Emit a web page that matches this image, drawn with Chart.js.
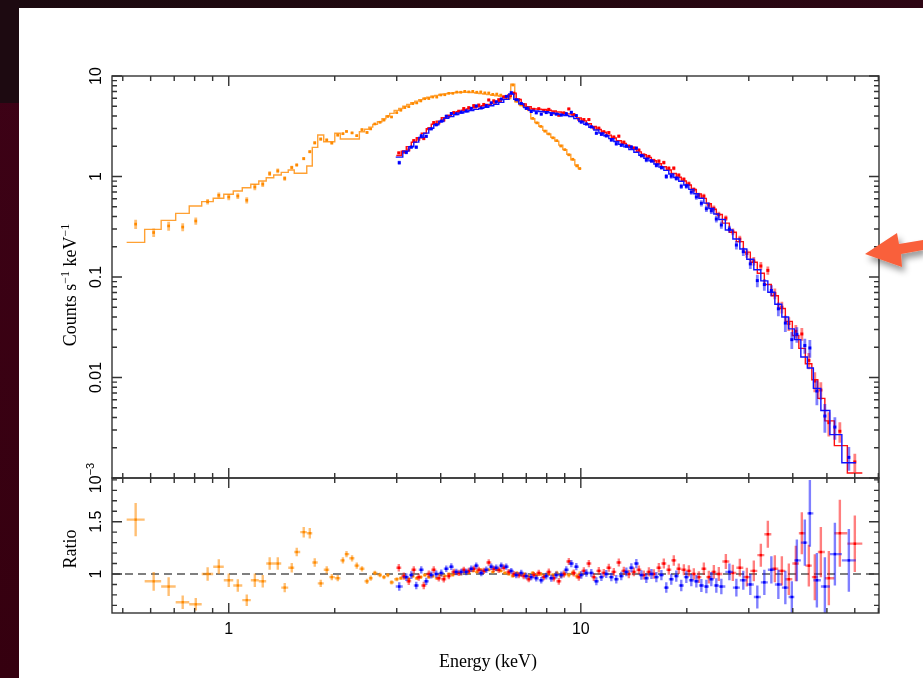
<!DOCTYPE html>
<html>
<head>
<meta charset="utf-8">
<script src="https://cdn.jsdelivr.net/npm/chart.js@4.4.1/dist/chart.umd.min.js"></script>
<style>
  html, body { margin: 0; padding: 0; }
  body { width: 923px; height: 678px; position: relative; overflow: hidden;
         background: linear-gradient(180deg, #3e0217 0%, #35000f 100%); }
  #topband { position: absolute; left: 0; top: 0; width: 923px; height: 8px;
             background: linear-gradient(90deg, #1b0a10 0%, #22080f 55%, #2e0614 100%); }
  #leftband { position: absolute; left: 0; top: 0; width: 19px; height: 103px; background: #1d0a11; }
  #sheet { position: absolute; left: 19px; top: 8px; width: 904px; height: 670px; background: #fff; }
  canvas { position: absolute; left: 0; top: 0; }
  #pointer { position: absolute; left: 0; top: 0; }
</style>
</head>
<body>
<div id="topband"></div>
<div id="leftband"></div>
<div id="sheet"></div>
<canvas id="specChart" width="923" height="678"></canvas>
<canvas id="ratioChart" width="923" height="678"></canvas>
<svg id="pointer" width="923" height="678">
  <defs>
    <filter id="shadow" x="-50%" y="-50%" width="200%" height="200%">
      <feDropShadow dx="3" dy="5" stdDeviation="3" flood-color="#000" flood-opacity="0.4"/>
    </filter>
  </defs>
  <polygon points="865,254 897,233 899,244 923,240 923,250 901,254 902,267" fill="#f9603a" filter="url(#shadow)"/>
</svg>
<script>
// ---- axis ticks ----
const xMajorTicks = [1, 10];
const xMinorTicks = [0.5, 0.6, 0.7, 0.8, 0.9, 2, 3, 4, 5, 6, 7, 8, 9, 20, 30, 40, 50, 60, 70];
const xTickLabels = ['1', '10'];
const countDecades = [0.001, 0.01, 0.1, 1, 10];
const countTickLabels = [['10', '−3'], ['0.01'], ['0.1'], ['1'], ['10']];
const ratioMajorTicks = [1, 1.5];
const ratioMinorTicks = [0.7, 0.8, 0.9, 1.1, 1.2, 1.3, 1.4, 1.6, 1.7, 1.8, 1.9];
const ratioTickLabels = ['1', '1.5'];

// ---- soft X-ray spectrum (orange) ----
const softEnergy = [0.544, 0.612, 0.675, 0.740, 0.806, 0.871, 0.937, 1.000, 1.061, 1.125,
  1.186, 1.249, 1.307, 1.378, 1.442, 1.510, 1.560, 1.633, 1.699, 1.755,
  1.825, 1.898, 1.962, 2.040, 2.110, 2.160, 2.240, 2.310, 2.390, 2.470,
  2.530, 2.600, 2.690, 2.760, 2.830, 2.900, 3.000,
  3.081, 3.162, 3.246, 3.332, 3.420, 3.511, 3.604, 3.700, 3.797, 3.898,
  4.002, 4.108, 4.217, 4.329, 4.443, 4.561, 4.682, 4.806, 4.933, 5.064,
  5.198, 5.337, 5.477, 5.623, 5.772, 5.925, 6.082, 6.242, 6.407, 6.577,
  6.752, 6.931, 7.114, 7.303, 7.499, 7.697, 7.901, 8.111, 8.326, 8.546,
  8.773, 9.005, 9.246, 9.490, 9.742, 9.930];
const softModel = [0.221, 0.298, 0.366, 0.430, 0.508, 0.562, 0.607, 0.665, 0.718, 0.774,
  0.836, 0.902, 0.973, 1.035, 1.10, 1.16, 1.076, 1.076, 1.27, 1.95,
  2.59, 2.22, 2.22, 2.69, 2.36, 2.36, 2.36, 2.36, 2.79, 2.95,
  3.10, 3.30, 3.50, 3.75, 4.00, 4.25, 4.55,
  4.75, 5.00, 5.22, 5.42, 5.62, 5.82, 6.00, 6.15, 6.30, 6.42,
  6.54, 6.64, 6.72, 6.79, 6.85, 6.89, 6.90, 6.88, 6.83, 6.76,
  6.68, 6.60, 6.52, 6.44, 6.36, 6.27, 6.12, 5.95, 8.30, 5.55,
  5.20, 4.95, 4.70, 3.75, 3.45, 3.15, 2.88, 2.65, 2.45, 2.25,
  2.05, 1.85, 1.66, 1.47, 1.30, 1.20];
const softRatio = [1.52, 0.93, 0.88, 0.73, 0.71, 1.00, 1.07, 0.94, 0.89, 0.75,
  0.94, 0.93, 1.10, 1.10, 0.87, 1.06, 1.21, 1.40, 1.39, 1.11,
  0.91, 1.04, 0.97, 0.96, 1.13, 1.19, 1.15, 1.08, 1.05, 0.93,
  0.96, 1.01, 0.99, 0.97, 0.99, 0.92, 0.95,
  0.96, 0.97, 0.95, 0.98, 0.96, 0.97, 0.99, 0.97, 0.98, 0.96,
  0.99, 0.98, 1.00, 0.99, 1.01, 1.00, 1.02, 1.01, 1.03, 1.02,
  1.04, 1.03, 1.04, 1.02, 1.04, 1.03, 1.01, 1.00, 0.98, 1.01,
  0.99, 1.00, 0.98, 1.01, 0.99, 1.00, 0.98, 1.00, 0.99, 1.01,
  0.98, 1.00, 0.99, 1.01, 0.98, 1.00];
const softErr = [0.16, 0.09, 0.09, 0.065, 0.06, 0.065, 0.07, 0.065, 0.06, 0.055,
  0.065, 0.06, 0.06, 0.06, 0.045, 0.045, 0.04, 0.05, 0.05, 0.04,
  0.035, 0.035, 0.03, 0.03, 0.03, 0.03, 0.03, 0.03, 0.025, 0.025,
  0.025, 0.022, 0.022, 0.02, 0.02, 0.02, 0.02,
  0.018, 0.018, 0.018, 0.017, 0.017, 0.017, 0.016, 0.016, 0.016, 0.016,
  0.015, 0.015, 0.015, 0.015, 0.015, 0.015, 0.015, 0.015, 0.015, 0.015,
  0.015, 0.015, 0.015, 0.015, 0.015, 0.016, 0.016, 0.016, 0.014, 0.016,
  0.016, 0.017, 0.017, 0.018, 0.018, 0.019, 0.019, 0.02, 0.02, 0.021,
  0.021, 0.022, 0.023, 0.024, 0.025, 0.026];

// ---- hard X-ray module A (red) ----
const modAEnergy = [3.041, 3.142, 3.246, 3.354, 3.465, 3.580, 3.700, 3.822, 3.950, 4.081,
  4.217, 4.357, 4.501, 4.651, 4.806, 4.965, 5.130, 5.301, 5.477, 5.659,
  5.847, 6.041, 6.242, 6.449, 6.664, 6.885, 7.114, 7.351, 7.595, 7.847,
  8.111, 8.380, 8.660, 8.946, 9.246, 9.552, 9.870, 10.20, 10.54, 10.89,
  11.25, 11.62, 12.01, 12.41, 12.82, 13.25, 13.69, 14.15, 14.62, 15.10,
  15.61, 16.12, 16.66, 17.21, 17.78, 18.37, 18.98, 19.62, 20.27, 20.94,
  21.64, 22.36, 23.10, 23.87, 24.66, 25.82, 27.03, 28.29, 29.62, 31.00,
  32.46, 33.98, 35.57, 37.24, 38.98, 40.81, 42.44, 44.43, 46.20, 48.06,
  50.64, 54.42, 60.02];
const modAModel = [1.62, 1.79, 1.98, 2.19, 2.43, 2.69, 2.99, 3.31, 3.56, 3.84,
  4.06, 4.24, 4.42, 4.56, 4.70, 4.83, 4.94, 5.06, 5.20, 5.39,
  5.58, 5.85, 6.25, 6.75, 5.85, 5.28, 4.95, 4.71, 4.68, 4.64,
  4.57, 4.48, 4.38, 4.29, 4.20, 4.09, 3.83, 3.58, 3.35, 3.14,
  2.94, 2.76, 2.58, 2.42, 2.27, 2.13, 2.00, 1.88, 1.76, 1.65,
  1.55, 1.44, 1.34, 1.25, 1.16, 1.07, 0.982, 0.902, 0.822, 0.743,
  0.671, 0.606, 0.536, 0.473, 0.418, 0.344, 0.279, 0.225, 0.177, 0.140,
  0.109, 0.0843, 0.0651, 0.0486, 0.0362, 0.0262, 0.0195, 0.0137, 0.0095, 0.0062,
  0.0037, 0.0021, 0.00112];
const modARatio = [1.06, 0.98, 0.93, 1.04, 0.97, 0.89, 1.00, 1.04, 0.96, 0.95,
  0.98, 1.02, 1.01, 1.04, 1.03, 1.05, 1.04, 1.03, 1.11, 1.05,
  1.04, 1.06, 1.02, 1.00, 0.99, 0.98, 0.95, 0.99, 1.01, 0.97,
  1.02, 0.96, 0.93, 1.00, 1.12, 1.01, 0.97, 1.03, 1.10, 0.97,
  1.03, 1.01, 1.06, 1.02, 1.11, 1.03, 1.00, 1.02, 1.04, 0.99,
  1.02, 1.00, 1.06, 1.10, 1.04, 1.13, 1.05, 1.04, 1.03, 1.00,
  0.97, 1.05, 0.97, 1.02, 1.00, 1.12, 1.01, 1.06, 0.97, 1.03,
  1.18, 1.38, 1.05, 1.03, 0.95, 1.10, 1.39, 1.08, 0.97, 1.21,
  0.96, 1.39, 1.29];
const modAErr = [0.035, 0.035, 0.035, 0.035, 0.035, 0.035, 0.033, 0.033, 0.032, 0.032,
  0.03, 0.03, 0.03, 0.03, 0.03, 0.03, 0.03, 0.03, 0.03, 0.03,
  0.03, 0.03, 0.028, 0.028, 0.03, 0.03, 0.03, 0.03, 0.03, 0.03,
  0.032, 0.032, 0.032, 0.033, 0.033, 0.034, 0.034, 0.035, 0.035, 0.036,
  0.036, 0.037, 0.038, 0.038, 0.039, 0.04, 0.04, 0.041, 0.042, 0.043,
  0.044, 0.045, 0.046, 0.047, 0.048, 0.05, 0.05, 0.052, 0.054, 0.055,
  0.057, 0.06, 0.062, 0.065, 0.068, 0.072, 0.078, 0.085, 0.09, 0.1,
  0.11, 0.13, 0.13, 0.14, 0.15, 0.17, 0.2, 0.2, 0.22, 0.24,
  0.26, 0.32, 0.27];

// ---- hard X-ray module B (blue) ----
const modBEnergy = [3.050, 3.194, 3.300, 3.409, 3.522, 3.639, 3.761, 3.885, 4.015, 4.148,
  4.287, 4.429, 4.575, 4.728, 4.885, 5.047, 5.215, 5.389, 5.567, 5.752,
  5.944, 6.141, 6.345, 6.555, 6.774, 6.999, 7.231, 7.472, 7.720, 7.976,
  8.245, 8.518, 8.803, 9.094, 9.399, 9.710, 10.03, 10.37, 10.71, 11.07,
  11.44, 11.81, 12.21, 12.61, 13.03, 13.47, 13.92, 14.38, 14.86, 15.35,
  15.87, 16.39, 16.94, 17.49, 18.07, 18.67, 19.29, 19.94, 20.60, 21.29,
  22.00, 22.73, 23.48, 24.26, 25.07, 26.42, 27.66, 28.94, 30.30, 31.72,
  33.21, 34.77, 36.40, 38.10, 39.75, 41.08, 43.28, 44.73, 46.83, 49.34,
  52.68, 57.72];
const modBModel = [1.56, 1.79, 1.98, 2.20, 2.44, 2.70, 3.01, 3.27, 3.52, 3.79,
  3.96, 4.13, 4.29, 4.41, 4.54, 4.66, 4.76, 4.88, 5.05, 5.22,
  5.46, 5.86, 6.62, 5.86, 5.28, 4.86, 4.57, 4.48, 4.44, 4.41,
  4.31, 4.22, 4.13, 4.05, 3.96, 3.77, 3.52, 3.30, 3.09, 2.90,
  2.71, 2.54, 2.38, 2.23, 2.09, 1.97, 1.85, 1.74, 1.63, 1.52,
  1.43, 1.33, 1.24, 1.15, 1.06, 0.976, 0.897, 0.824, 0.745, 0.673,
  0.608, 0.543, 0.480, 0.424, 0.374, 0.294, 0.239, 0.190, 0.150, 0.118,
  0.0914, 0.0706, 0.0536, 0.0400, 0.0305, 0.0238, 0.0160, 0.01245, 0.0078, 0.0047,
  0.0027, 0.00142];
const modBRatio = [0.88, 0.97, 0.99, 0.89, 1.04, 0.93, 0.99, 1.00, 1.01, 1.05,
  1.07, 1.02, 1.02, 1.02, 1.05, 1.08, 1.01, 1.04, 1.07, 1.06,
  1.08, 1.07, 1.03, 0.99, 1.01, 0.98, 0.97, 0.96, 0.94, 0.98,
  0.96, 0.99, 0.99, 1.04, 1.10, 1.07, 0.99, 1.01, 1.01, 0.93,
  0.97, 1.00, 0.97, 0.95, 0.98, 1.02, 1.06, 1.10, 0.99, 0.96,
  1.00, 0.97, 0.99, 0.87, 0.95, 0.98, 0.89, 0.97, 0.94, 0.93,
  0.89, 0.88, 0.95, 0.89, 0.88, 1.02, 0.87, 0.94, 0.90, 0.78,
  0.92, 1.04, 0.90, 0.87, 0.78, 1.13, 1.30, 1.58, 0.94, 0.88,
  1.19, 1.13];
const modBErr = [0.04, 0.038, 0.037, 0.036, 0.035, 0.035, 0.034, 0.033, 0.033, 0.032,
  0.032, 0.031, 0.031, 0.031, 0.031, 0.031, 0.031, 0.031, 0.031, 0.031,
  0.031, 0.03, 0.028, 0.03, 0.031, 0.031, 0.031, 0.031, 0.031, 0.032,
  0.033, 0.033, 0.034, 0.034, 0.035, 0.035, 0.036, 0.036, 0.037, 0.038,
  0.038, 0.039, 0.04, 0.041, 0.041, 0.042, 0.043, 0.044, 0.045, 0.046,
  0.047, 0.048, 0.049, 0.05, 0.052, 0.053, 0.055, 0.056, 0.058, 0.06,
  0.062, 0.065, 0.068, 0.07, 0.074, 0.08, 0.085, 0.09, 0.1, 0.11,
  0.12, 0.13, 0.14, 0.16, 0.15, 0.2, 0.22, 0.32, 0.26, 0.28,
  0.3, 0.3];

const TICK_FONT = '16px "Liberation Sans", Arial, sans-serif';
const SUP_FONT = '11px "Liberation Sans", Arial, sans-serif';
const TITLE_FONT = '18px "Liberation Serif", "Times New Roman", serif';
const TITLE_SUP_FONT = '12px "Liberation Serif", "Times New Roman", serif';
const AXIS_COLOR = '#333';

// bin edges halfway (in log space) between neighbouring channel energies
function binEdges(e) {
  const lo = [], hi = [];
  for (let i = 0; i < e.length; i++) {
    const prev = i > 0 ? Math.sqrt(e[i - 1] * e[i]) : null;
    const next = i < e.length - 1 ? Math.sqrt(e[i] * e[i + 1]) : null;
    lo.push(prev !== null ? prev : e[i] * e[i] / next);
    hi.push(next !== null ? next : e[i] * e[i] / prev);
  }
  return { lo, hi };
}

function buildSeries(energy, model, ratio, err) {
  const edges = binEdges(energy);
  const hist = [];
  energy.forEach((e, i) => {
    hist.push({ x: edges.lo[i], y: model[i] }, { x: edges.hi[i], y: model[i] });
  });
  return {
    edges,
    hist,
    counts: energy.map((e, i) => ({ x: e, y: model[i] * ratio[i] })),
    countErr: energy.map((e, i) => model[i] * err[i]),
    ratios: energy.map((e, i) => ({ x: e, y: ratio[i] })),
    ratioErr: err
  };
}

const soft = buildSeries(softEnergy, softModel, softRatio, softErr);
const modA = buildSeries(modAEnergy, modAModel, modARatio, modAErr);
const modB = buildSeries(modBEnergy, modBModel, modBRatio, modBErr);

const colors = {
  soft: { point: '#ff8a00', line: 'rgba(255,138,0,0.8)', bar: 'rgba(255,138,0,0.55)' },
  modA: { point: '#ff0000', line: '#ff1010', bar: 'rgba(255,0,0,0.5)' },
  modB: { point: '#0000ff', line: '#1010ff', bar: 'rgba(0,0,255,0.5)' }
};

// error bars are drawn just before the markers of their own dataset
const errorBars = {
  id: 'errorBars',
  beforeDatasetDraw(chart, args) {
    const ds = chart.data.datasets[args.index];
    if (!ds.err) return;
    const { ctx, chartArea: a, scales: { x, y } } = chart;
    ctx.save();
    ctx.beginPath();
    ctx.rect(a.left, a.top, a.right - a.left, a.bottom - a.top);
    ctx.clip();
    ctx.strokeStyle = ds.barColor;
    ctx.lineWidth = ds.barWidth;
    ctx.beginPath();
    ds.data.forEach((p, i) => {
      const px = x.getPixelForValue(p.x);
      const py = y.getPixelForValue(p.y);
      const low = p.y - ds.err[i];
      const y0 = low > 0 ? y.getPixelForValue(low) : a.bottom + 20;
      const y1 = y.getPixelForValue(p.y + ds.err[i]);
      ctx.moveTo(px, y0);
      ctx.lineTo(px, y1);
      if (ds.xlo) {
        ctx.moveTo(x.getPixelForValue(ds.xlo[i]), py);
        ctx.lineTo(x.getPixelForValue(ds.xhi[i]), py);
      }
    });
    ctx.stroke();
    ctx.restore();
  }
};

// text made of normal and superscript pieces, optionally turned to read upwards
function richText(ctx, parts, cx, cy, font, supFont, rotated) {
  ctx.save();
  ctx.translate(cx, cy);
  if (rotated) ctx.rotate(-Math.PI / 2);
  let total = 0;
  parts.forEach(p => { ctx.font = p.sup ? supFont : font; total += ctx.measureText(p.t).width; });
  let x = -total / 2;
  ctx.fillStyle = '#000';
  ctx.textBaseline = 'alphabetic';
  ctx.textAlign = 'left';
  parts.forEach(p => {
    ctx.font = p.sup ? supFont : font;
    ctx.fillText(p.t, x, p.sup ? -7 : 0);
    x += ctx.measureText(p.t).width;
  });
  ctx.restore();
}

function xTicks(ctx, x, a) {
  const put = (v, len) => {
    const px = x.getPixelForValue(v);
    ctx.moveTo(px, a.top); ctx.lineTo(px, a.top + len);
    ctx.moveTo(px, a.bottom); ctx.lineTo(px, a.bottom - len);
  };
  xMajorTicks.forEach(v => put(v, 10));
  xMinorTicks.forEach(v => put(v, 5));
}

function yTicks(ctx, y, a, values, len) {
  values.forEach(v => {
    const py = y.getPixelForValue(v);
    ctx.moveTo(a.left, py); ctx.lineTo(a.left + len, py);
    ctx.moveTo(a.right, py); ctx.lineTo(a.right - len, py);
  });
}

const spectrumFrame = {
  id: 'spectrumFrame',
  afterDraw(chart) {
    const { ctx, chartArea: a, scales: { x, y } } = chart;
    ctx.save();
    ctx.strokeStyle = AXIS_COLOR;
    ctx.lineWidth = 1.4;
    ctx.strokeRect(a.left, a.top, a.right - a.left, a.bottom - a.top);
    ctx.beginPath();
    xTicks(ctx, x, a);
    yTicks(ctx, y, a, countDecades, 10);
    const minor = [];
    countDecades.slice(0, -1).forEach(d => { for (let m = 2; m <= 9; m++) minor.push(d * m); });
    yTicks(ctx, y, a, minor, 5);
    ctx.stroke();
    countDecades.forEach((v, i) => {
      const parts = countTickLabels[i].map((t, k) => ({ t, sup: k > 0 }));
      richText(ctx, parts, 101, y.getPixelForValue(v), TICK_FONT, SUP_FONT, true);
    });
    richText(ctx, [{ t: 'Counts s' }, { t: '−1', sup: true }, { t: ' keV' }, { t: '−1', sup: true }],
      76, 285, TITLE_FONT, TITLE_SUP_FONT, true);
    ctx.restore();
  }
};

const ratioFrame = {
  id: 'ratioFrame',
  beforeDatasetsDraw(chart) {
    const { ctx, chartArea: a, scales: { y } } = chart;
    const py = y.getPixelForValue(1);
    ctx.save();
    ctx.strokeStyle = '#555';
    ctx.lineWidth = 1.3;
    ctx.setLineDash([8, 5]);
    ctx.beginPath();
    ctx.moveTo(a.left, py);
    ctx.lineTo(a.right, py);
    ctx.stroke();
    ctx.restore();
  },
  afterDraw(chart) {
    const { ctx, chartArea: a, scales: { x, y } } = chart;
    ctx.save();
    ctx.strokeStyle = AXIS_COLOR;
    ctx.lineWidth = 1.4;
    ctx.strokeRect(a.left, a.top, a.right - a.left, a.bottom - a.top);
    ctx.beginPath();
    xTicks(ctx, x, a);
    yTicks(ctx, y, a, ratioMajorTicks, 10);
    yTicks(ctx, y, a, ratioMinorTicks, 5);
    ctx.stroke();
    ratioMajorTicks.forEach((v, i) => {
      richText(ctx, [{ t: ratioTickLabels[i] }], 101, y.getPixelForValue(v), TICK_FONT, SUP_FONT, true);
    });
    xMajorTicks.forEach((v, i) => {
      richText(ctx, [{ t: xTickLabels[i] }], x.getPixelForValue(v), 634, TICK_FONT, SUP_FONT, false);
    });
    richText(ctx, [{ t: 'Energy (keV)' }], 488, 667, TITLE_FONT, TITLE_SUP_FONT, false);
    richText(ctx, [{ t: 'Ratio' }], 76, 549, TITLE_FONT, TITLE_SUP_FONT, true);
    ctx.restore();
  }
};

function modelDataset(s, c, order) {
  return { data: s.hist, showLine: true, borderColor: c.line, borderWidth: 1.4,
           pointRadius: 0, order };
}

function pointDataset(data, err, c, order, edges, size) {
  return { data, showLine: false, pointStyle: 'rect', pointRadius: size, borderWidth: 0,
           backgroundColor: c.point, borderColor: c.point, err, barColor: c.bar,
           barWidth: edges ? 2.4 : 2.8,
           xlo: edges ? edges.lo : null, xhi: edges ? edges.hi : null, order };
}

const baseOptions = (padding, yScale) => ({
  responsive: false,
  animation: false,
  events: [],
  layout: { padding },
  plugins: { legend: { display: false }, tooltip: { enabled: false } },
  scales: {
    x: { type: 'logarithmic', min: 0.466, max: 70.3, display: false },
    y: yScale
  }
});

new Chart(document.getElementById('specChart'), {
  type: 'scatter',
  data: {
    datasets: [
      pointDataset(modB.counts, modB.countErr, colors.modB, 0, null, 2.1),
      modelDataset(modB, colors.modB, 1),
      pointDataset(modA.counts, modA.countErr, colors.modA, 2, null, 2.1),
      modelDataset(modA, colors.modA, 3),
      pointDataset(soft.counts, soft.countErr, colors.soft, 4, null, 1.9),
      modelDataset(soft, colors.soft, 5)
    ]
  },
  options: baseOptions({ left: 112, right: 44, top: 76, bottom: 200 },
    { type: 'logarithmic', min: 0.001, max: 10, display: false }),
  plugins: [errorBars, spectrumFrame]
});

new Chart(document.getElementById('ratioChart'), {
  type: 'scatter',
  data: {
    datasets: [
      pointDataset(modB.ratios, modB.ratioErr, colors.modB, 0, modB.edges, 1.8),
      pointDataset(modA.ratios, modA.ratioErr, colors.modA, 1, modA.edges, 1.8),
      pointDataset(soft.ratios, soft.ratioErr, colors.soft, 2, soft.edges, 1.7)
    ]
  },
  options: baseOptions({ left: 112, right: 44, top: 478, bottom: 65 },
    { type: 'linear', min: 0.627, max: 1.918, display: false }),
  plugins: [errorBars, ratioFrame]
});
</script>
</body>
</html>
